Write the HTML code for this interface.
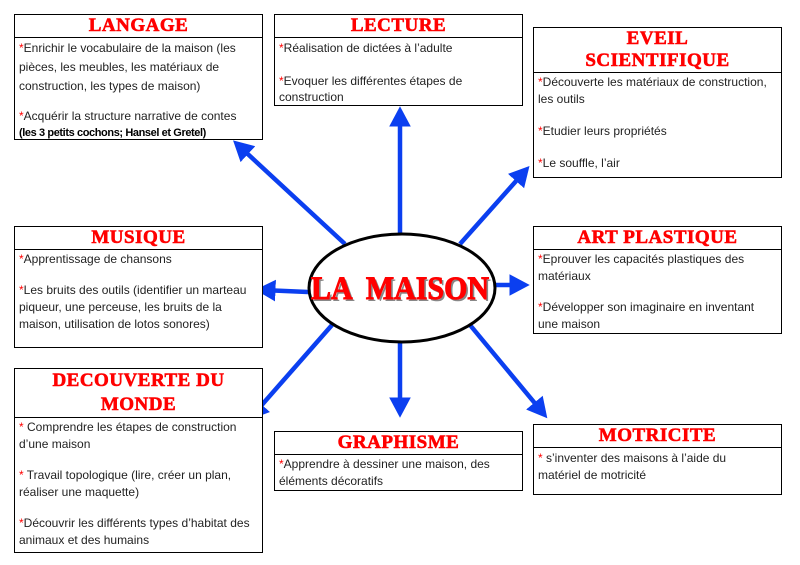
<!DOCTYPE html>
<html><head><meta charset="utf-8"><style>
body{margin:0;width:800px;height:565px;background:#fff;position:relative;overflow:hidden;font-family:"Liberation Sans",sans-serif;}
.b{position:absolute;border:1.5px solid #000;background:#fff;box-sizing:border-box;}
.t{border-bottom:1.5px solid #000;text-align:center;color:#f00;font-family:"Liberation Serif",serif;font-weight:900;font-size:19px;letter-spacing:0.5px;line-height:22px;-webkit-text-stroke:0.6px #f00;}
.c{padding:1px 8px 0 4px;font-size:12px;line-height:19px;color:#222;}
.c p{margin:0 0 12px 0;}
.r{color:#f00;}
svg{position:absolute;left:0;top:0;}
</style></head><body>
<svg width="800" height="565">
<defs><marker id="a" markerWidth="6" markerHeight="6" refX="3" refY="3" orient="auto" markerUnits="strokeWidth"><path d="M0,0.6 L4.5,3 L0,5.4 z" fill="#0b3ff0"/></marker></defs>
<g stroke="#0b3ff0" stroke-width="4.5" fill="none" marker-end="url(#a)">
<line x1="345" y1="244" x2="238" y2="145"/>
<line x1="400" y1="233" x2="400" y2="113"/>
<line x1="460" y1="244" x2="525" y2="171"/>
<line x1="308" y1="292" x2="262" y2="290"/>
<line x1="496" y1="285" x2="523" y2="285"/>
<line x1="332" y1="325" x2="253" y2="415"/>
<line x1="400" y1="343" x2="400" y2="411"/>
<line x1="470" y1="325" x2="543" y2="413"/>
</g>
<ellipse cx="402" cy="288" rx="93" ry="54" fill="#fff" stroke="#000" stroke-width="3"/>
<text x="311" y="299" textLength="178" lengthAdjust="spacingAndGlyphs" font-family="Liberation Serif" font-weight="900" font-size="33" fill="#888" dx="2" dy="2" xml:space="preserve">LA  MAISON</text>
<text x="311" y="299" textLength="178" lengthAdjust="spacingAndGlyphs" font-family="Liberation Serif" font-weight="900" font-size="33" fill="#f00" stroke="#f00" stroke-width="1" xml:space="preserve">LA  MAISON</text>
</svg>

<div class="b" style="left:14px;top:14px;width:249px;height:126px"><div class="t">LANGAGE</div><div class="c"><p><span class="r">*</span>Enrichir le vocabulaire de la maison (les pièces, les meubles, les matériaux de construction, les types de maison)</p><p style="margin:0;line-height:16px"><span class="r">*</span>Acquérir la structure narrative de contes <b style="color:#000;font-size:11px;letter-spacing:-0.4px;white-space:nowrap">(les 3 petits cochons; Hansel et Gretel)</b></p></div></div>

<div class="b" style="left:274px;top:14px;width:249px;height:92px"><div class="t">LECTURE</div><div class="c" style="line-height:16px;padding-top:2px"><p style="margin-bottom:17px"><span class="r">*</span>Réalisation de dictées à l’adulte</p><p style="margin:0"><span class="r">*</span>Evoquer les différentes étapes de construction</p></div></div>

<div class="b" style="left:533px;top:27px;width:249px;height:151px"><div class="t">EVEIL<br>SCIENTIFIQUE</div><div class="c" style="line-height:17px;padding-top:1px"><p style="margin-bottom:15px"><span class="r">*</span>Découverte les matériaux de construction, les outils</p><p style="margin-bottom:15px"><span class="r">*</span>Etudier leurs propriétés</p><p style="margin:0"><span class="r">*</span>Le  souffle, l’air</p></div></div>

<div class="b" style="left:14px;top:226px;width:249px;height:122px"><div class="t">MUSIQUE</div><div class="c" style="line-height:17px;padding-top:1px"><p style="margin-bottom:14px"><span class="r">*</span>Apprentissage de chansons</p><p style="margin:0"><span class="r">*</span>Les bruits des outils (identifier un marteau piqueur, une perceuse, les  bruits de la maison,  utilisation de lotos  sonores)</p></div></div>

<div class="b" style="left:533px;top:226px;width:249px;height:108px"><div class="t">ART PLASTIQUE</div><div class="c" style="line-height:17px;padding-top:1px"><p style="margin-bottom:14px"><span class="r">*</span>Eprouver les capacités plastiques des matériaux</p><p style="margin:0"><span class="r">*</span>Développer son imaginaire en  inventant une maison</p></div></div>

<div class="b" style="left:14px;top:368px;width:249px;height:185px"><div class="t" style="line-height:24px">DECOUVERTE DU<br>MONDE</div><div class="c" style="line-height:17px;padding-top:1px"><p style="margin-bottom:14px"><span class="r">*</span> Comprendre les étapes de construction d’une maison</p><p style="margin-bottom:14px"><span class="r">*</span> Travail topologique (lire, créer un  plan, réaliser une maquette)</p><p style="margin:0"><span class="r">*</span>Découvrir les différents types d’habitat des animaux et des humains</p></div></div>

<div class="b" style="left:274px;top:431px;width:249px;height:60px"><div class="t">GRAPHISME</div><div class="c" style="line-height:17px;padding-top:1px"><p style="margin:0"><span class="r">*</span>Apprendre à dessiner une maison, des éléments décoratifs</p></div></div>

<div class="b" style="left:533px;top:424px;width:249px;height:71px"><div class="t">MOTRICITE</div><div class="c" style="line-height:17px;padding-top:2px"><p style="margin:0"><span class="r">*</span> s’inventer des maisons à l’aide  du<br>matériel de motricité</p></div></div>
</body></html>
